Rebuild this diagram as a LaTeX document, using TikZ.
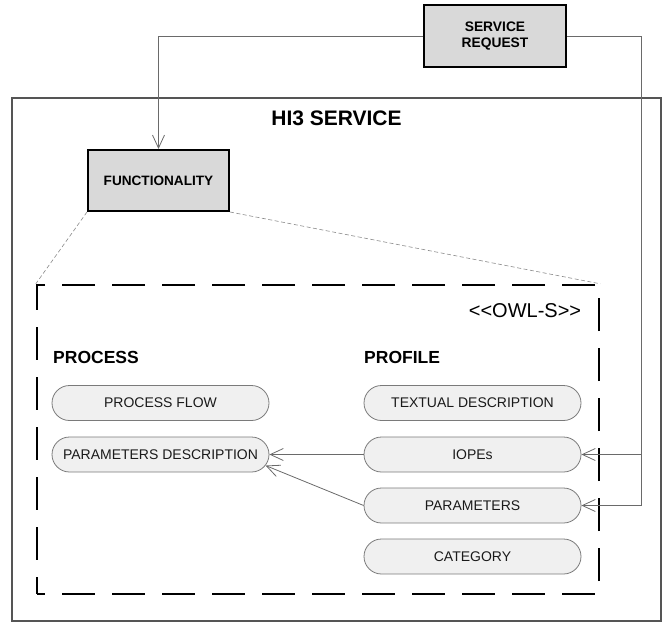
\documentclass[tikz,border=0pt]{standalone}
\usepackage{fontspec}
\setmainfont{Liberation Sans}
\usetikzlibrary{arrows.meta,shapes.misc}
\definecolor{boxgray}{HTML}{D9D9D9}
\definecolor{pillfill}{HTML}{F0F0F0}
\definecolor{pillline}{HTML}{7A7A7A}
\definecolor{linkgray}{HTML}{6A6A6A}
\definecolor{framegray}{HTML}{555555}
\definecolor{guidegray}{HTML}{8A8A8A}
\definecolor{textdark}{HTML}{1A1A1A}
\tikzset{
  hardbox/.style={draw=black, line width=2pt, fill=boxgray, inner sep=0pt,
    align=center, font=\bfseries\fontsize{13.8}{16}\selectfont},
  pill/.style={rounded rectangle, draw=pillline, line width=0.8pt, fill=pillfill,
    minimum width=217pt, minimum height=35pt, inner sep=0pt, text=textdark,
    font=\fontsize{14}{16}\selectfont},
  link/.style={draw=linkgray, line width=0.8pt},
  barbhead/.style={-{Straight Barb[length=13pt,width=12pt,line width=0.8pt]}},
  guide/.style={draw=guidegray, line width=0.6pt, dash pattern=on 4pt off 2.5pt},
  heading/.style={inner sep=0pt, anchor=west, font=\bfseries\fontsize{17.5}{20}\selectfont}
}
\begin{document}
\begin{tikzpicture}[x=1pt,y=-1pt]
\useasboundingbox (0,0) rectangle (662,622);

% outer service frame
\node[draw=framegray, line width=1.5pt, minimum width=649pt, minimum height=523pt,
      inner sep=0pt] (hi3) at (336.5,359.5) {};
\node[inner sep=0pt, font=\bfseries\fontsize{21}{24}\selectfont] (title) at (336.5,118) {HI3 SERVICE};

% request and functionality boxes
\node[hardbox, minimum width=142pt, minimum height=62pt] (req) at (495,36) {SERVICE\\REQUEST};
\node[hardbox, minimum width=141pt, minimum height=61pt, font=\bfseries\fontsize{13.6}{16}\selectfont]
      (func) at (158.5,180.5) {FUNCTIONALITY};

% OWL-S description frame
\node[draw=black, line width=2.4pt, dash pattern=on 33pt off 17pt, dash phase=25pt,
      minimum width=562pt, minimum height=309pt, inner sep=0pt] (owl) at (318,439.5) {};
\node[inner sep=0pt, font=\fontsize{20}{24}\selectfont] (stereo) at (525,311)
      {<\kern0pt<OWL-S>\kern0pt>};

\draw[guide] (func.south west) -- (owl.north west);
\draw[guide] (func.south east) -- (owl.north east);

% column headings
\node[heading] (process) at (53,357) {PROCESS};
\node[heading] (profile) at (364,357) {PROFILE};

% process entries
\node[pill] (pflow) at (160.5,403) {PROCESS FLOW};
\node[pill] (pardesc) at (160.5,454.5) {PARAMETERS DESCRIPTION};

% profile entries
\node[pill] (textdesc) at (472.5,403) {TEXTUAL DESCRIPTION};
\node[pill] (iopes) at (472.5,454.5) {IOPEs};
\node[pill] (params) at (472.5,505.5) {PARAMETERS};
\node[pill] (categ) at (472.5,556.5) {CATEGORY};

% connectors
\coordinate (rail) at (641,36);
\draw[link, barbhead] (req.west) -| (func.north);
\draw[link, barbhead] (req.east) -| (rail |- params.east) -- (params.east);
\draw[link, barbhead] (rail |- iopes.east) -- (iopes.east);
\draw[link, barbhead] (iopes.west) -- (pardesc.east);
\draw[link, barbhead] (params.west) -- (pardesc.-6);
\end{tikzpicture}
\end{document}
